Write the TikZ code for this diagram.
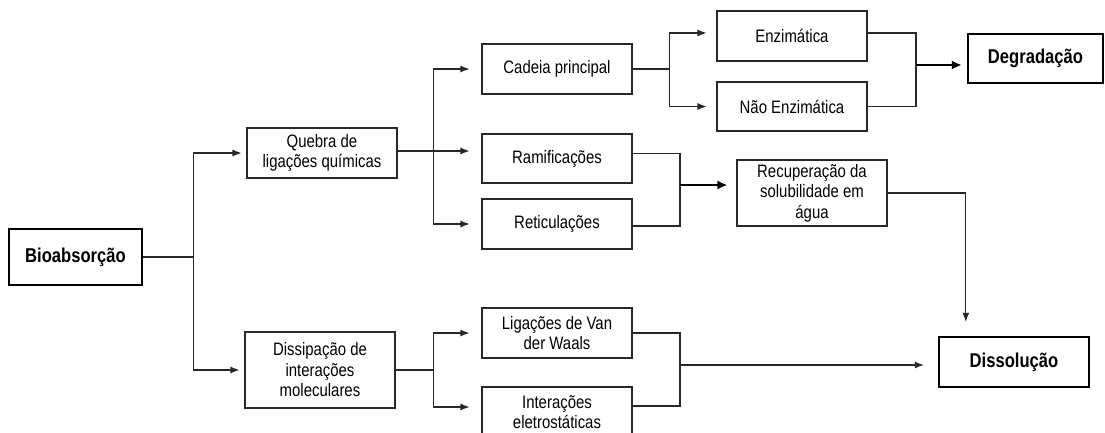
\documentclass[tikz,border=0pt]{standalone}
\usepackage{fontspec}
\setmainfont{Liberation Sans}[FakeStretch=0.83]
\usetikzlibrary{arrows.meta,calc}
\definecolor{ln}{RGB}{40,40,40}
\begin{document}
\begin{tikzpicture}[x=1pt,y=-1pt,
  box/.style={draw=ln,line width=1.1pt,fill=white,minimum width=150pt,minimum height=50pt,
    inner sep=1pt,align=center,font=\fontsize{18}{20.5}\selectfont},
  bbox/.style={draw=black,line width=2.4pt,fill=white,minimum height=50pt,
    inner sep=1pt,align=center,font=\fontsize{20}{22}\selectfont\bfseries},
  line/.style={draw=ln,line width=1.1pt},
  arr/.style={line,-{Latex[length=9pt,width=7pt]}},
  tarr/.style={draw=black,line width=2.2pt,-{Latex[length=10pt,width=9pt]}}]
\useasboundingbox (0,0) rectangle (1105,433);
\clip (0,0) rectangle (1105,433);
% nodes
\node[bbox,minimum width=133pt,minimum height=56pt] (bio) at (75.5,257) {Bioabsorção};
\node[box] (quebra) at (322,153) {Quebra de\\ligações químicas};
\node[box,minimum height=76pt] (dissip) at (320,370) {Dissipação de\\interações\\moleculares};
\node[box] (cadeia) at (557,69) {Cadeia principal};
\node[box,minimum height=49pt] (ramif) at (557,158.5) {Ramificações};
\node[box] (retic) at (557,224) {Reticulações};
\node[box] (lig) at (557,333) {Ligações de Van\\der Waals};
\node[box] (inter) at (557,412) {Interações\\eletrostáticas};
\node[box] (enz) at (792,36) {Enzimática};
\node[box,minimum height=49pt] (naoenz) at (792,106.5) {Não Enzimática};
\node[box,minimum height=66pt] (recup) at (812,193) {Recuperação da\\solubilidade em\\água};
\node[bbox,minimum width=135pt,minimum height=49pt] (degr) at (1035.5,58.5) {Degradação};
\node[bbox,minimum width=150pt] (dissol) at (1014,362) {Dissolução};
% junctions
\coordinate (j1) at ($(bio.east)+(50,0)$);
\coordinate (j2) at ($(quebra.east)+(36,-2)$);
\coordinate (j3) at ($(cadeia.east)+(37,0)$);
\coordinate (j4) at (916,65);
\coordinate (j5) at (680,185);
\coordinate (j6) at ($(dissip.east)+(38,0)$);
\coordinate (j7) at ($(dissol.north west)+(28,0)$);
\coordinate (j8) at (680,365);
% connectors
\draw[line] (bio.east) -- (j1);
\draw[arr,shorten >=5pt] (j1) |- (quebra.west);
\draw[arr,shorten >=5pt] (j1) |- (dissip.west);
\draw[line] (quebra.east |- j2) -- (j2);
\draw[arr,shorten >=12pt] (j2) |- (cadeia.west);
\draw[arr,shorten >=12pt] (j2) -- (j2 -| ramif.west);
\draw[arr,shorten >=12pt] (j2) |- (retic.west);
\draw[line] (cadeia.east) -- (j3);
\draw[arr,shorten >=10pt] (j3) |- ([yshift=3pt]enz.west);
\draw[arr,shorten >=10pt] (j3) |- (naoenz.west);
\draw[line] ([yshift=3pt]enz.east) -| (j4) |- (naoenz.east);
\draw[tarr,shorten >=5pt] (j4) -- (j4 -| degr.west);
\draw[line] ([yshift=5pt]ramif.east) -| (j5) |- ([yshift=-2pt]retic.east);
\draw[tarr,shorten >=9pt] (j5) -- (j5 -| recup.west);
\draw[arr,shorten >=14pt] (recup.east) -| (j7);
\draw[line] (dissip.east) -- (j6);
\draw[arr,shorten >=12pt] (j6) |- (lig.west);
\draw[arr,shorten >=12pt] (j6) |- ([yshift=5pt]inter.west);
\draw[line] (lig.east) -| (j8) |- ([yshift=6pt]inter.east);
\draw[arr,shorten >=14pt] (j8) -- (j8 -| dissol.west);
\end{tikzpicture}
\end{document}
